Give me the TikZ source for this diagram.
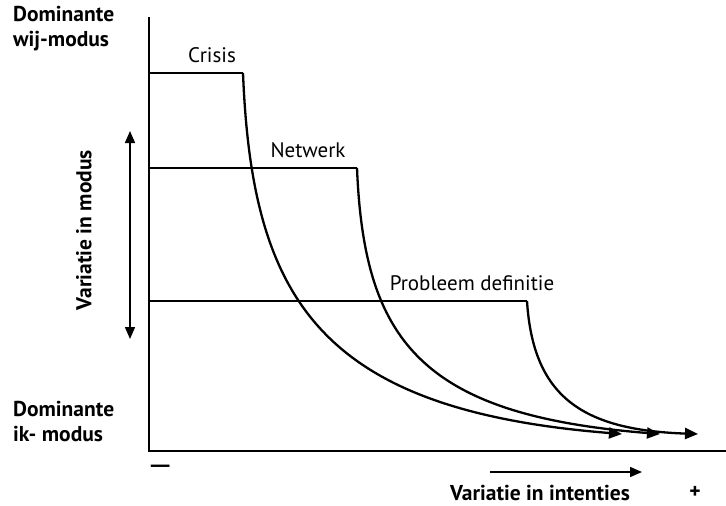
\documentclass[tikz,border=0pt]{standalone}
\usepackage{fontspec}
\setmainfont{PT Sans}
\usetikzlibrary{arrows.meta}
\begin{document}
\begin{tikzpicture}[x=1pt,y=-1pt,
  axisline/.style={line width=1.8pt},
  curveline/.style={line width=2.3pt,-{Triangle[length=13pt,width=11pt]}},
  flatline/.style={line width=2.3pt},
  boldlabel/.style={font=\fontsize{21.5}{25}\selectfont\bfseries,align=left,inner sep=0pt},
  curvelabel/.style={font=\fontsize{21}{25}\selectfont,inner sep=0pt},
  thinarrow/.style={line width=1.5pt,{Triangle[length=12pt,width=10pt]}-{Triangle[length=12pt,width=10pt]}}
]
\useasboundingbox (0,0) rectangle (726,506);
% axes
\coordinate (top) at (149,17);
\coordinate (origin) at (149,451);
\coordinate (right) at (726,451);
\draw[axisline] (top) -- (origin) -- (right);
% Crisis
\coordinate (c0) at (149,73);
\coordinate (c1) at (243,73);
\coordinate (c2) at (622,434);
\draw[flatline] (c0) -- (c1);
\draw[curveline] (c1) .. controls (252,300) and (320,410) .. (c2);
% Netwerk
\coordinate (n0) at (149,168);
\coordinate (n1) at (357,168);
\coordinate (n2) at (660,434);
\draw[flatline] (n0) -- (n1);
\draw[curveline] (n1) .. controls (364,340) and (420,415) .. (n2);
% Probleem definitie
\coordinate (p0) at (149,301);
\coordinate (p1) at (527,301);
\coordinate (p2) at (698,434);
\draw[flatline] (p0) -- (p1);
\draw[curveline] (p1) .. controls (533,395) and (580,430) .. (p2);
% labels
\node[curvelabel] (lc) at (212,55) {Crisis};
\node[curvelabel] (ln) at (308,150) {Netwerk};
\node[curvelabel] (lp) at (472,283) {Probleem definitie};
\node[boldlabel,anchor=north west] (wij) at (13,6) {Dominante\\wij-modus};
\node[boldlabel,anchor=north west] (ik) at (13,401) {Dominante\\ik- modus};
\node[boldlabel,rotate=90] (vm) at (84,230) {Variatie in modus};
\node[boldlabel] (vi) at (540,493) {Variatie in intenties};
\node[boldlabel] (plus) at (695,492) {+};
\node[font=\fontsize{32}{36}\selectfont,inner sep=0pt,anchor=west] (minus) at (147,470) {\textemdash};
% vertical double arrow
\coordinate (va) at (130,131);
\coordinate (vb) at (130,339);
\draw[thinarrow] (va) -- (vb);
% horizontal arrow
\coordinate (ha) at (490,472);
\coordinate (hb) at (642,472);
\draw[line width=1.5pt,-{Triangle[length=12pt,width=10pt]}] (ha) -- (hb);
\end{tikzpicture}
\end{document}
